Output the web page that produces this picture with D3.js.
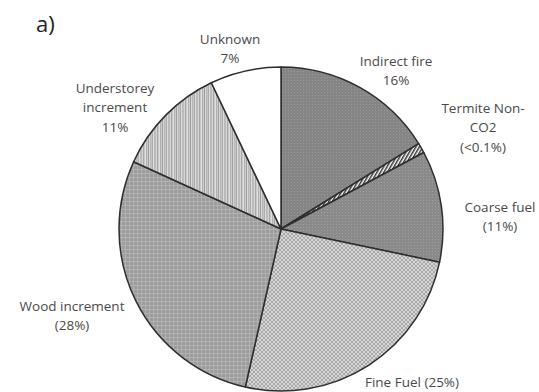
<!DOCTYPE html>
<html>
<head>
<meta charset="utf-8">
<script src="https://cdn.jsdelivr.net/npm/d3@7"></script>
<style>
  html, body { margin: 0; padding: 0; background: #fff; }
  svg { display: block; }
  text { font-family: "Open Sans", sans-serif; fill: #4a4a4a; }
</style>
</head>
<body>
<svg id="chart" width="539" height="392"></svg>
<script>
// Emission components, clockwise from 12 o'clock
const categories = ["Indirect fire", "Termite Non-CO2", "Coarse fuel", "Fine Fuel", "Wood increment", "Understorey increment", "Unknown"];
const shares = [16, 1, 11, 25, 28, 11, 7];
const labelLines = [
  ["Indirect fire", "16%"],
  ["Termite Non-", "CO2", "(<0.1%)"],
  ["Coarse fuel", "(11%)"],
  ["Fine Fuel (25%)"],
  ["Wood increment", "(28%)"],
  ["Understorey", "increment", "11%"],
  ["Unknown", "7%"]
];
const fills = ["url(#dotDark)", "url(#hatch)", "url(#dotMid)", "url(#checker)", "url(#grid)", "url(#vstripe)", "#ffffff"];

const svg = d3.select("#chart");
const cx = 281, cy = 229, R = 162;

// Fill textures
const defs = svg.append("defs");

function dotPattern(id, base, dot) {
  const p = defs.append("pattern").attr("id", id).attr("patternUnits", "userSpaceOnUse")
    .attr("width", 3).attr("height", 3);
  p.append("rect").attr("width", 3).attr("height", 3).attr("fill", base);
  p.append("rect").attr("x", 1).attr("y", 1).attr("width", 1).attr("height", 1).attr("fill", dot);
}
dotPattern("dotDark", "#858585", "#9a9a9a");
dotPattern("dotMid", "#8a8a8a", "#a0a0a0");

{
  const p = defs.append("pattern").attr("id", "checker").attr("patternUnits", "userSpaceOnUse")
    .attr("width", 4).attr("height", 4);
  p.append("rect").attr("width", 4).attr("height", 4).attr("fill", "#a9a9a9");
  p.append("rect").attr("width", 2).attr("height", 2).attr("fill", "#d6d6d6");
  p.append("rect").attr("x", 2).attr("y", 2).attr("width", 2).attr("height", 2).attr("fill", "#d6d6d6");
}
{
  const p = defs.append("pattern").attr("id", "grid").attr("patternUnits", "userSpaceOnUse")
    .attr("width", 4).attr("height", 4);
  p.append("rect").attr("width", 4).attr("height", 4).attr("fill", "#9c9c9c");
  p.append("rect").attr("width", 4).attr("height", 1).attr("fill", "#b2b2b2");
  p.append("rect").attr("width", 1).attr("height", 4).attr("fill", "#b2b2b2");
}
{
  const p = defs.append("pattern").attr("id", "vstripe").attr("patternUnits", "userSpaceOnUse")
    .attr("width", 14).attr("height", 10);
  const cols = ["#bdbdbd", "#d4d4d4", "#a8a8a8", "#c8c8c8", "#e0e0e0", "#b0b0b0", "#cccccc", "#9f9f9f", "#d8d8d8", "#b8b8b8", "#c4c4c4", "#acacac", "#dcdcdc", "#bababa"];
  cols.forEach((c, i) => p.append("rect").attr("x", i).attr("width", 1).attr("height", 10).attr("fill", c));
}
{
  const p = defs.append("pattern").attr("id", "hatch").attr("patternUnits", "userSpaceOnUse")
    .attr("width", 3).attr("height", 3).attr("patternTransform", "rotate(30)");
  p.append("rect").attr("width", 3).attr("height", 3).attr("fill", "#ffffff");
  p.append("rect").attr("width", 1.5).attr("height", 3).attr("fill", "#333");
}

const data = categories.map((c, i) => ({ name: c, value: shares[i], fill: fills[i], lines: labelLines[i] }));

const pie = d3.pie().value(d => d.value).sort(null);
const arc = d3.arc().innerRadius(0).outerRadius(R);

const g = svg.append("g").attr("transform", `translate(${cx},${cy})`);
g.selectAll("path").data(pie(data)).join("path")
  .attr("d", arc)
  .attr("fill", d => d.data.fill)
  .attr("stroke", "#2e2e2e")
  .attr("stroke-width", 1.5)
  .attr("stroke-linejoin", "round");

// Label anchors, placed around the rim
const labelPos = [
  [396, 61], [483, 108], [500, 207], [412, 382], [72, 306], [115, 88], [230, 39]
];
const lineH = 19.5;
const labels = svg.append("g").attr("font-size", 13.5);
data.forEach((d, i) => {
  const [x, y] = labelPos[i];
  const t = labels.append("text").attr("x", x).attr("y", y).attr("text-anchor", "middle");
  d.lines.forEach((ln, k) => {
    t.append("tspan").attr("x", x).attr("dy", k === 0 ? "0.35em" : lineH).text(ln);
  });
});

svg.append("text").attr("x", 36).attr("y", 32).attr("font-size", 22).style("fill", "#222").text("a)");
</script>
</body>
</html>
